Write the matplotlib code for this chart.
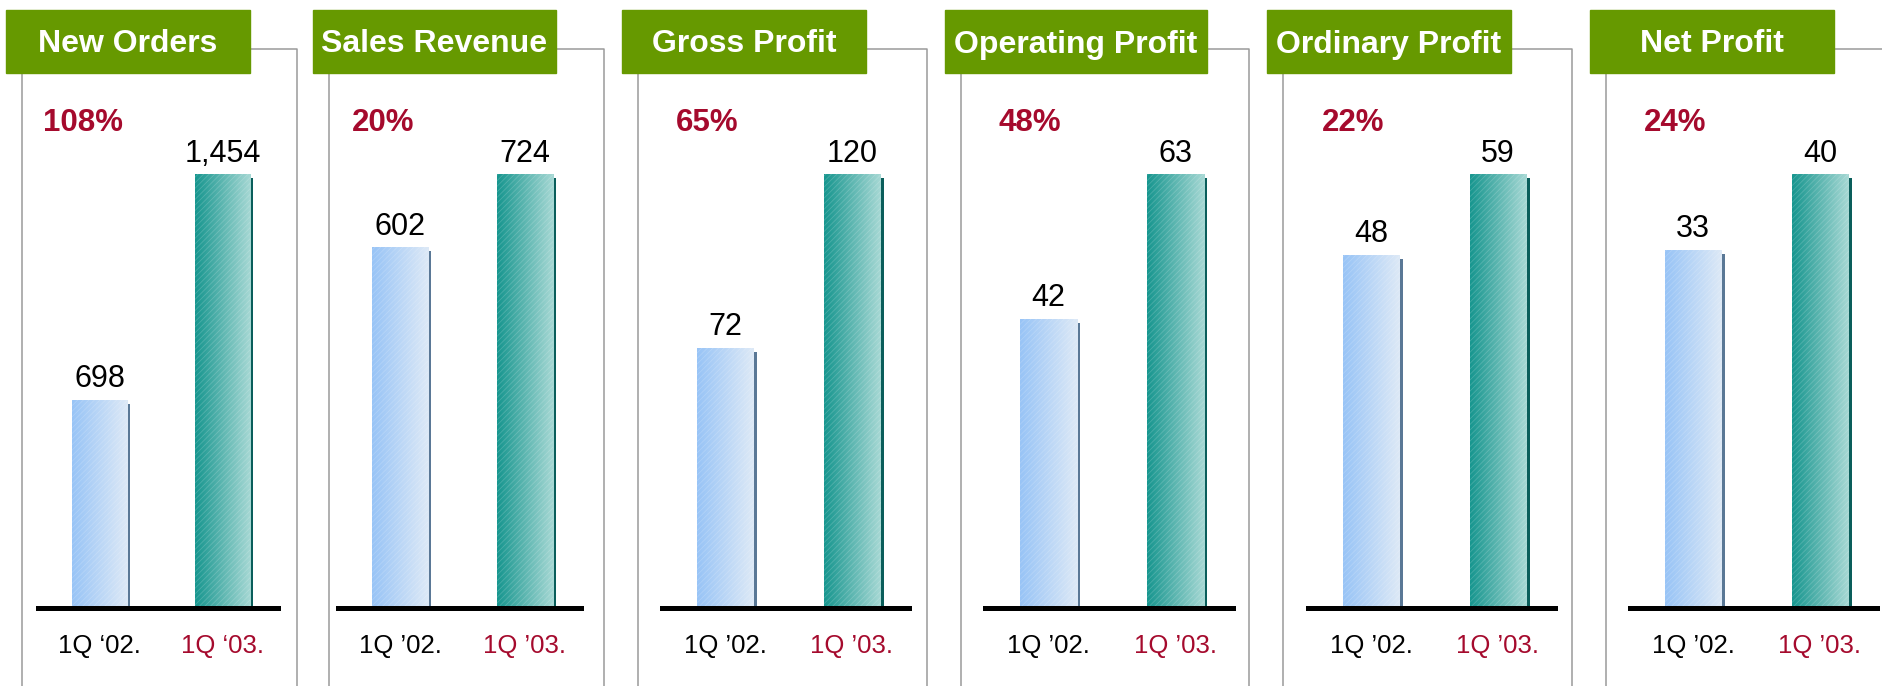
import numpy as np
import matplotlib
matplotlib.use("Agg")
import matplotlib.pyplot as plt
from matplotlib.colors import LinearSegmentedColormap
from matplotlib.patches import Rectangle
from matplotlib.lines import Line2D

# data
categories = ["New Orders", "Sales Revenue", "Gross Profit",
              "Operating Profit", "Ordinary Profit", "Net Profit"]
q1_02 = [698, 602, 72, 42, 48, 33]
q1_03 = [1454, 724, 120, 63, 59, 40]
growth = ["108%", "20%", "65%", "48%", "22%", "24%"]
label_02 = ["1Q \u201802."] + ["1Q \u201902."] * 5
label_03 = ["1Q \u201803."] + ["1Q \u201903."] * 5

plt.rcParams["font.family"] = ["Liberation Sans", "DejaVu Sans"]
plt.rcParams["hatch.linewidth"] = 0.6

W, H = 1882, 686
fig = plt.figure(figsize=(W / 100, H / 100), dpi=100)

GREEN = "#669900"
RED = "#a50a2d"
GRAY = "#9a9a9a"

# panel layout in pixels (title box, frame, baseline)
boxes = [(6, 250), (313, 556), (622, 866), (945, 1207), (1267, 1511), (1590, 1834)]
frames = [(22, 297), (329, 604), (638, 927), (961, 1249), (1283, 1572), (1606, 1900)]
bases = [(38, 278), (338, 581), (662, 909), (985, 1233), (1308, 1555), (1630, 1877)]
box_top, box_bot, frame_top = 10, 73, 49
base_y, bar_top = 608, 174

def fx(x):
    return x / W

def fy(y):
    return 1 - y / H

bar_w = 0.45
edge_w = 0.028

def shaded_bar(ax, x, h, c_left, c_right, c_edge, ymax):
    drop = ymax * 4 / 434
    # dark side strip
    ax.bar(x + bar_w / 2 + edge_w / 2 - 0.004, h - drop, width=edge_w,
           color=c_edge, linewidth=0, zorder=1.5)
    r = ax.bar(x, h, width=bar_w, color=c_left, linewidth=0, zorder=2)[0]
    grad = np.linspace(0, 1, 64).reshape(1, -1)
    cmap = LinearSegmentedColormap.from_list("g", [c_left, c_right])
    im = ax.imshow(grad, cmap=cmap, aspect="auto", zorder=2.1,
                   extent=(x - bar_w / 2, x + bar_w / 2, 0, h))
    im.set_clip_path(r)
    # fine texture
    ax.add_patch(Rectangle((x - bar_w / 2, 0), bar_w, h, fill=False,
                           hatch="//////", edgecolor=(1, 1, 1, 0.18),
                           linewidth=0, zorder=2.2))

for i in range(len(categories)):
    b0, b1 = boxes[i]
    f0, f1 = frames[i]
    x0, x1 = bases[i]

    # gray frame
    fig.add_artist(Line2D([fx(f0), fx(f0), fx(f1), fx(f1)],
                          [fy(H + 5), fy(frame_top), fy(frame_top), fy(H + 5)],
                          color=GRAY, lw=1.1, transform=fig.transFigure))
    # green title box
    fig.add_artist(Rectangle((fx(b0), fy(box_bot)), fx(b1) - fx(b0),
                             fy(box_top) - fy(box_bot), color=GREEN,
                             transform=fig.transFigure, zorder=3))
    fig.text(fx((b0 + b1) / 2), fy((box_top + box_bot) / 2 + 3), categories[i],
             color="white", fontsize=23, fontweight="bold",
             ha="center", va="center", zorder=4)

    ax = fig.add_axes([fx(x0), fy(base_y), fx(x1) - fx(x0), fy(bar_top) - fy(base_y)])
    ax.patch.set_alpha(0)
    ymax = q1_03[i]
    shaded_bar(ax, 0, q1_02[i], "#98c4f6", "#dde9f7", "#5a7896", ymax)
    shaded_bar(ax, 1, q1_03[i], "#17968f", "#a6d8d4", "#0a5e5b", ymax)
    ax.set_xlim(-0.5, 1.45)
    ax.set_ylim(0, ymax)

    for s in ["top", "left", "right"]:
        ax.spines[s].set_visible(False)
    ax.spines["bottom"].set_linewidth(3.6)
    ax.spines["bottom"].set_color("black")
    ax.spines["bottom"].set_zorder(3)
    ax.set_xticks([])
    ax.set_yticks([])

    for x, v in zip([0, 1], [q1_02[i], q1_03[i]]):
        ax.annotate(f"{v:,}", (x, v), xytext=(0, 9), textcoords="offset points",
                    ha="center", va="baseline", fontsize=22,
                    annotation_clip=False)

    for x, lab, c in zip([0, 1], [label_02[i], label_03[i]], ["black", RED]):
        ax.annotate(lab, (x, 0), xytext=(0, -32.4), textcoords="offset points",
                    ha="center", va="baseline", fontsize=18.5, color=c,
                    annotation_clip=False)

    ax.text(45 / (x1 - x0), (base_y - 131) / (base_y - bar_top), growth[i],
            transform=ax.transAxes, ha="center", va="baseline",
            fontsize=22.5, fontweight="bold", color=RED)

fig.savefig("out.png", dpi=100)
